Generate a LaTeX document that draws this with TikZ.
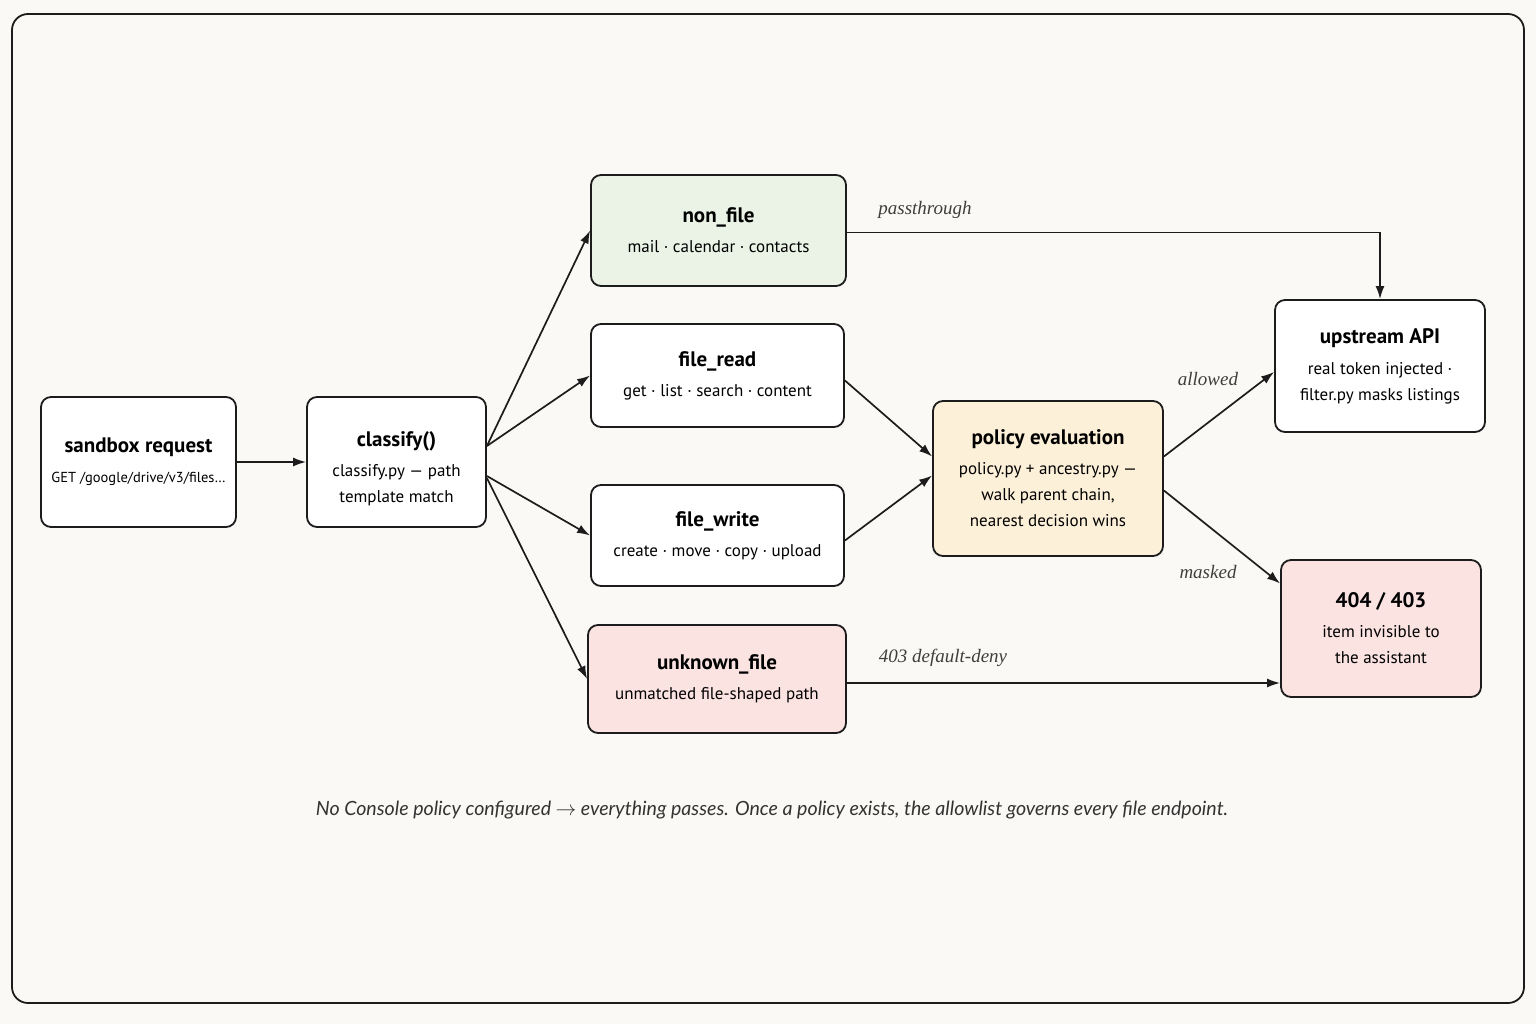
\documentclass[tikz,border=0pt]{standalone}
\usepackage{fontspec}
\setmainfont{PT Sans}
\newfontfamily\labelfont{Liberation Serif}
\newfontfamily\notefont{Lato}
\usetikzlibrary{arrows.meta}

\definecolor{paper}{HTML}{FBF9F5}
\definecolor{ink}{HTML}{1C1C1C}
\definecolor{greenfill}{HTML}{EAF3E6}
\definecolor{pinkfill}{HTML}{FBE3E2}
\definecolor{peachfill}{HTML}{FDF0D9}

\newcommand{\boxhead}[1]{{\fontsize{21}{24}\selectfont\bfseries #1}}

\begin{document}
\begin{tikzpicture}[x=1pt,y=-1pt,
    box/.style={draw=ink,line width=1.8pt,rounded corners=10pt,fill=white,
      align=center,inner sep=0pt,font=\fontsize{17}{26}\selectfont},
    flow/.style={-{Latex[length=13pt,width=9pt]},line width=1.7pt,draw=ink},
    edgelabel/.style={font=\labelfont\itshape\fontsize{19}{22}\selectfont,text=ink!85}]
      \fill[paper] (0,0) rectangle (1536,1024);
      \useasboundingbox (0,0) rectangle (1536,1024);
      \draw[ink,line width=1.8pt,rounded corners=16pt] (12,14) rectangle (1524,1003);

      \node (req) at (138.5,462) [box,minimum width=195pt,minimum height=130pt]
        {\boxhead{sandbox request}\\[4pt]{\fontsize{14.5}{16}\selectfont GET /google/drive/v3/files…}};
      \node (cls) at (396.5,462) [box,minimum width=179pt,minimum height=130pt]
        {\rule{0pt}{29pt}\boxhead{classify()}\\[4pt]classify.py — path\\template match};

      \node (nonf) at (718.5,230.5) [box,fill=greenfill,minimum width=255pt,minimum height=111pt]
        {\boxhead{non\_file}\\[4pt]mail · calendar · contacts};
      \node (fread) at (717.5,375.5) [box,minimum width=253pt,minimum height=103pt]
        {\boxhead{file\_read}\\[4pt]get · list · search · content};
      \node (fwrite) at (717.5,535.5) [box,minimum width=253pt,minimum height=101pt]
        {\boxhead{file\_write}\\[4pt]create · move · copy · upload};
      \node (unk) at (717,679) [box,fill=pinkfill,minimum width=258pt,minimum height=108pt]
        {\boxhead{unknown\_file}\\[4pt]unmatched file-shaped path};

      \node (pol) at (1048,478.5) [box,fill=peachfill,minimum width=230pt,minimum height=155pt]
        {\boxhead{policy evaluation}\\[4pt]policy.py + ancestry.py —\\walk parent chain,\\nearest decision wins};

      \node (up) at (1380,366) [box,minimum width=210pt,minimum height=132pt]
        {\boxhead{upstream API}\\[5pt]real token injected ·\\filter.py masks listings};
      \node (deny) at (1381,628.5) [box,fill=pinkfill,minimum width=200pt,minimum height=137pt]
        {\boxhead{404 / 403}\\[4pt]item invisible to\\the assistant};

      \draw[flow] (req) -- (cls);
      \draw[flow] ([yshift=16pt]cls.east) -- (nonf.west);
      \draw[flow] ([yshift=16pt]cls.east) -- (fread.west);
      \draw[flow] ([yshift=-14pt]cls.east) -- (fwrite.west);
      \draw[flow] ([yshift=-16pt]cls.east) -- (unk.west);

      \draw[flow] ([yshift=-2pt]nonf.east) -| (up.north);
      \draw[flow] ([yshift=-5pt]fread.east) -- ([yshift=22pt]pol.west);
      \draw[flow] ([yshift=-5pt]fwrite.east) -- ([yshift=3pt]pol.west);
      \draw[flow] ([yshift=22pt]pol.east) -- ([yshift=-6pt]up.west);
      \draw[flow] ([yshift=-12pt]pol.east) -- ([yshift=45pt]deny.west);
      \draw[flow] ([yshift=-4pt]unk.east) -- ([yshift=-4pt]unk.east -| deny.west);

      \node (lpass) at (925,210) [edgelabel] {passthrough};
      \node (lallow) at (1208,379) [edgelabel] {allowed};
      \node (lmask) at (1208,572) [edgelabel] {masked};
      \node (ldeny) at (943,658) [edgelabel] {403 default-deny};

      \node (note) at (772,810) [font=\notefont\itshape\fontsize{19.6}{22}\selectfont,text=ink!90]
        {No Console policy configured $\rightarrow$ everything passes. Once a policy exists, the allowlist governs every file endpoint.};
\end{tikzpicture}
\end{document}
